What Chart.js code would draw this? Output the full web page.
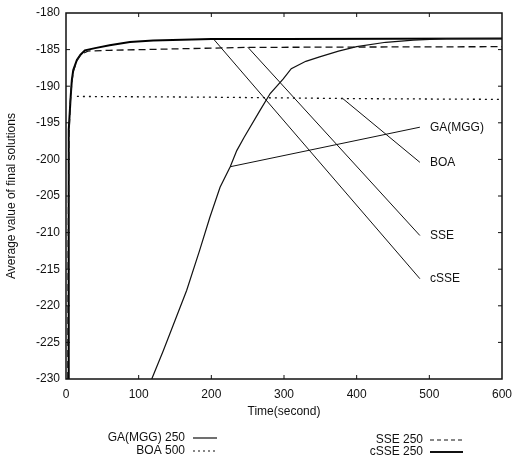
<!DOCTYPE html>
<html>
<head>
<meta charset="utf-8">
<script src="https://cdn.jsdelivr.net/npm/chart.js@4/dist/chart.umd.min.js"></script>
<style>
  html, body { margin: 0; background: #fff; }
  #wrap { width: 512px; height: 455px; }
</style>
</head>
<body>
<div id="wrap"><canvas id="chart"></canvas></div>
<script>
// series (time in seconds, average value)
const gaTime = [118, 134, 152, 166, 184, 198, 212, 226, 235, 245, 267, 281, 299, 310, 330, 349, 375, 400, 440, 478, 523, 600];
const gaValue = [-230, -226.1, -221.5, -217.9, -212.4, -207.9, -203.8, -201, -198.8, -197, -193.3, -191, -189, -187.6, -186.6, -186, -185.2, -184.6, -184, -183.7, -183.5, -183.5];

const boaTime = [15, 200, 400, 600];
const boaValue = [-191.4, -191.5, -191.7, -191.8];

const sseTime = [2.5, 3, 4, 6, 8, 10, 15, 20, 30, 60, 150, 250, 400, 600];
const sseValue = [-230, -212, -197, -192, -189.5, -188, -186.5, -185.7, -185.2, -185.1, -184.9, -184.7, -184.65, -184.6];

const csseTime = [3, 3.5, 4, 6.4, 8, 10, 15, 20, 26, 40, 60, 88, 120, 200, 300, 600];
const csseValue = [-230, -210, -196, -191.5, -189.2, -187.8, -186.4, -185.7, -185.1, -184.8, -184.4, -183.95, -183.75, -183.55, -183.55, -183.5];

// leader lines from curves to their labels
const labelNames = ["GA(MGG)", "BOA", "SSE", "cSSE"];
const pointerFromX = [226, 381, 250, 203];
const pointerFromY = [-201, -191.7, -184.65, -183.55];
const pointerToX = [487, 487, 487, 487];
const pointerToY = [-195.6, -200.4, -210.4, -216.3];

const legendNames = ["GA(MGG) 250", "BOA 500", "SSE 250", "cSSE 250"];
const xTicks = [0, 100, 200, 300, 400, 500, 600];

const FONT = "'Liberation Sans', Arial, sans-serif";

function pairs(xs, ys) {
  return xs.map((x, i) => ({ x: x, y: ys[i] }));
}

const curveSets = [
  { label: "GA(MGG) 250", data: pairs(gaTime, gaValue), borderColor: "#111", borderWidth: 1.2 },
  { label: "BOA 500", data: pairs(boaTime, boaValue), borderColor: "#111", borderWidth: 1.3, borderDash: [2, 4] },
  { label: "SSE 250", data: pairs(sseTime, sseValue), borderColor: "#111", borderWidth: 1.3, borderDash: [7, 4] },
  { label: "cSSE 250", data: pairs(csseTime, csseValue), borderColor: "#000", borderWidth: 2 },
];

const pointerSets = labelNames.map((name, i) => ({
  label: "pointer " + name,
  data: [
    { x: pointerFromX[i], y: pointerFromY[i] },
    { x: pointerToX[i], y: pointerToY[i] },
  ],
  borderColor: "#111",
  borderWidth: 1,
}));

// frame, inward ticks, labels and legend
const decorations = {
  id: "decorations",
  afterDraw(chart) {
    const ctx = chart.ctx;
    const a = chart.chartArea;
    const xs = chart.scales.x;
    const ys = chart.scales.y;
    ctx.save();

    ctx.strokeStyle = "#111";
    ctx.lineWidth = 1.5;
    ctx.strokeRect(a.left, a.top, a.right - a.left, a.bottom - a.top);

    ctx.lineWidth = 1;
    ctx.beginPath();
    for (let v = -225; v < -180; v += 5) {
      const py = ys.getPixelForValue(v);
      ctx.moveTo(a.left, py); ctx.lineTo(a.left + 4, py);
      ctx.moveTo(a.right, py); ctx.lineTo(a.right - 4, py);
    }
    xTicks.slice(1, -1).forEach((v) => {
      const px = xs.getPixelForValue(v);
      ctx.moveTo(px, a.bottom); ctx.lineTo(px, a.bottom - 4);
      ctx.moveTo(px, a.top); ctx.lineTo(px, a.top + 4);
    });
    ctx.stroke();

    ctx.fillStyle = "#111";
    ctx.font = "12px " + FONT;
    ctx.textBaseline = "middle";
    ctx.textAlign = "left";
    labelNames.forEach((name, i) => {
      const px = xs.getPixelForValue(pointerToX[i]) + 10;
      const py = ys.getPixelForValue(pointerToY[i]);
      ctx.fillText(name, px, py);
    });

    // legend below the axis, two columns
    const rows = [
      { text: legendNames[0], x: 185, y: 438, dash: [], w: 1.2, sx: 193, ex: 217 },
      { text: legendNames[1], x: 185, y: 451, dash: [2, 3], w: 1.2, sx: 193, ex: 217 },
      { text: legendNames[2], x: 423, y: 440, dash: [4, 3], w: 1.2, sx: 430, ex: 463 },
      { text: legendNames[3], x: 423, y: 452, dash: [], w: 2, sx: 430, ex: 463 },
    ];
    ctx.textAlign = "right";
    rows.forEach((r) => {
      ctx.fillText(r.text, r.x, r.y);
      ctx.beginPath();
      ctx.setLineDash(r.dash);
      ctx.lineWidth = r.w;
      ctx.moveTo(r.sx, r.y);
      ctx.lineTo(r.ex, r.y);
      ctx.stroke();
    });
    ctx.setLineDash([]);
    ctx.restore();
  },
};

new Chart(document.getElementById("chart"), {
  type: "line",
  data: { datasets: curveSets.concat(pointerSets) },
  options: {
    responsive: true,
    maintainAspectRatio: false,
    animation: false,
    layout: { padding: { left: 0, top: 13, right: 10, bottom: 36 } },
    elements: {
      point: { radius: 0 },
      line: { tension: 0, fill: false },
    },
    plugins: {
      legend: { display: false },
      tooltip: { enabled: false },
    },
    scales: {
      x: {
        type: "linear",
        min: 0,
        max: 600,
        afterFit: (scale) => {
          scale.height = 40;
          scale.paddingLeft = 0;
          scale.paddingRight = 0;
        },
        afterBuildTicks: (scale) => { scale.ticks = xTicks.map((v) => ({ value: v })); },
        grid: { display: false, drawTicks: false },
        border: { display: false },
        ticks: { color: "#111", padding: 8, font: { family: FONT, size: 12 } },
        title: {
          display: true,
          text: "Time(second)",
          color: "#111",
          padding: { top: 2, bottom: 0 },
          font: { family: FONT, size: 12 },
        },
      },
      y: {
        min: -230,
        max: -180,
        afterFit: (scale) => {
          scale.width = 66;
          scale.paddingTop = 0;
          scale.paddingBottom = 0;
        },
        grid: { display: false, drawTicks: false },
        border: { display: false },
        ticks: { stepSize: 5, color: "#111", padding: 6, font: { family: FONT, size: 12 } },
        title: {
          display: true,
          text: "Average value of final solutions",
          color: "#111",
          padding: { top: 4, bottom: 0 },
          font: { family: FONT, size: 12 },
        },
      },
    },
  },
  plugins: [decorations],
});
</script>
</body>
</html>
